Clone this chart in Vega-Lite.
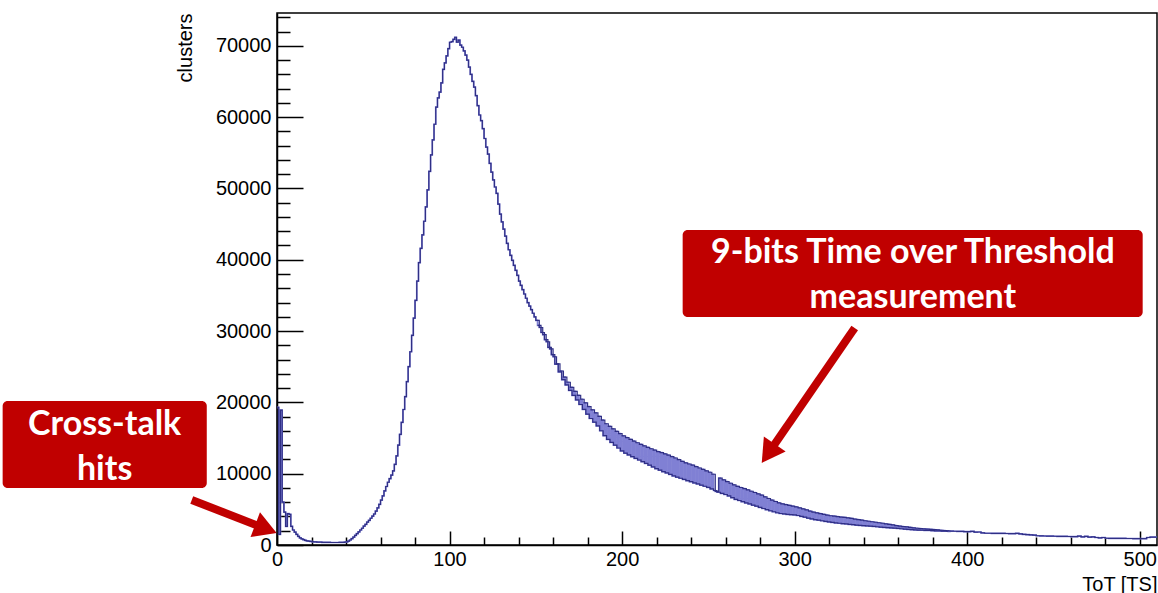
{
"$schema":"https://vega.github.io/schema/vega-lite/v6.json",
"width":880,"height":532,"autosize":"none",
"padding":{"left":277,"top":13,"right":1,"bottom":48},
"background":"white",
"config":{"view":{"stroke":"black","strokeWidth":1.5},
"axis":{"labelFont":"Liberation Sans","labelFontSize":20,"labelColor":"black","titleFont":"Liberation Sans","titleFontSize":20,"titleFontWeight":"normal","titleColor":"black","tickColor":"black","tickWidth":1.5,"domainColor":"black","domainWidth":1.5,"grid":false,"labelOverlap":false,"labelFlush":false}},
"datasets":{
"hist":[
{"x":0,"y":19300},{"x":1,"y":1500},{"x":2,"y":18900},{"x":3,"y":6000},{"x":4,"y":4600},{"x":5,"y":2600},{"x":6,"y":4400},{"x":7,"y":4300},{"x":8,"y":2600},{"x":9,"y":2100},
{"x":10,"y":1800},{"x":11,"y":1500},{"x":12,"y":1200},{"x":13,"y":1000},{"x":14,"y":850},{"x":15,"y":750},{"x":16,"y":650},{"x":17,"y":580},{"x":18,"y":530},{"x":19,"y":500},
{"x":20,"y":470},{"x":21,"y":450},{"x":22,"y":430},{"x":23,"y":410},{"x":24,"y":400},{"x":25,"y":390},{"x":26,"y":380},{"x":27,"y":370},{"x":28,"y":370},{"x":29,"y":360},
{"x":30,"y":360},{"x":31,"y":350},{"x":32,"y":350},{"x":33,"y":350},{"x":34,"y":350},{"x":35,"y":350},{"x":36,"y":360},{"x":37,"y":370},{"x":38,"y":380},{"x":39,"y":400},
{"x":40,"y":440},{"x":41,"y":540},{"x":42,"y":700},{"x":43,"y":900},{"x":44,"y":1100},{"x":45,"y":1350},{"x":46,"y":1600},{"x":47,"y":1850},{"x":48,"y":2100},{"x":49,"y":2350},
{"x":50,"y":2650},{"x":51,"y":2900},{"x":52,"y":3200},{"x":53,"y":3450},{"x":54,"y":3750},{"x":55,"y":4050},{"x":56,"y":4350},{"x":57,"y":4750},{"x":58,"y":5200},{"x":59,"y":5700},
{"x":60,"y":6300},{"x":61,"y":6900},{"x":62,"y":7600},{"x":63,"y":8200},{"x":64,"y":8800},{"x":65,"y":9300},{"x":66,"y":9800},{"x":67,"y":10400},{"x":68,"y":11300},{"x":69,"y":12500},
{"x":70,"y":14000},{"x":71,"y":15500},{"x":72,"y":17200},{"x":73,"y":19000},{"x":74,"y":20800},{"x":75,"y":22900},{"x":76,"y":25000},{"x":77,"y":27100},{"x":78,"y":29400},{"x":79,"y":31800},
{"x":80,"y":34300},{"x":81,"y":37000},{"x":82,"y":39600},{"x":83,"y":41600},{"x":84,"y":43500},{"x":85,"y":45400},{"x":86,"y":47400},{"x":87,"y":49800},{"x":88,"y":52400},{"x":89,"y":54700},
{"x":90,"y":56800},{"x":91,"y":59000},{"x":92,"y":61400},{"x":93,"y":62700},{"x":94,"y":63500},{"x":95,"y":64800},{"x":96,"y":66700},{"x":97,"y":67600},{"x":98,"y":68600},{"x":99,"y":69600},
{"x":100,"y":70500},{"x":101,"y":70600},{"x":102,"y":70900},{"x":103,"y":71200},{"x":104,"y":70500},{"x":105,"y":70800},{"x":106,"y":70100},{"x":107,"y":69800},{"x":108,"y":69300},{"x":109,"y":68700},
{"x":110,"y":68000},{"x":111,"y":67000},{"x":112,"y":66000},{"x":113,"y":65000},{"x":114,"y":64200},{"x":115,"y":63000},{"x":116,"y":61600},{"x":117,"y":60300},{"x":118,"y":59500},{"x":119,"y":58400},
{"x":120,"y":57000},{"x":121,"y":55800},{"x":122,"y":54800},{"x":123,"y":53500},{"x":124,"y":52300},{"x":125,"y":51200},{"x":126,"y":50200},{"x":127,"y":49300},{"x":128,"y":47800},{"x":129,"y":46400},
{"x":130,"y":45300},{"x":131,"y":44300},{"x":132,"y":43300},{"x":133,"y":42300},{"x":134,"y":41400},{"x":135,"y":40600},{"x":136,"y":39900},{"x":137,"y":39200},{"x":138,"y":38500},{"x":139,"y":37800},
{"x":140,"y":37000},{"x":141,"y":36400},{"x":142,"y":35800},{"x":143,"y":35200},{"x":144,"y":34600},{"x":145,"y":34000},{"x":146,"y":33500},{"x":147,"y":33000},{"x":148,"y":32500},{"x":149,"y":32000},
{"x":150,"y":31500},{"x":151,"y":30800},{"x":152,"y":30500},{"x":153,"y":29800},{"x":154,"y":29500},{"x":155,"y":28800},{"x":156,"y":28500},{"x":157,"y":27700},{"x":158,"y":27500},{"x":159,"y":26700},
{"x":160,"y":26400},{"x":161,"y":25360},{"x":162,"y":25400},{"x":163,"y":24280},{"x":164,"y":24400},{"x":165,"y":23200},{"x":166,"y":23540},{"x":167,"y":22440},{"x":168,"y":22820},{"x":169,"y":21680},
{"x":170,"y":22100},{"x":171,"y":20980},{"x":172,"y":21540},{"x":173,"y":20340},{"x":174,"y":20980},{"x":175,"y":19700},{"x":176,"y":20440},{"x":177,"y":19020},{"x":178,"y":19920},{"x":179,"y":18340},
{"x":180,"y":19400},{"x":181,"y":17740},{"x":182,"y":18960},{"x":183,"y":17220},{"x":184,"y":18520},{"x":185,"y":16700},{"x":186,"y":18040},{"x":187,"y":16020},{"x":188,"y":17520},{"x":189,"y":15340},
{"x":190,"y":17000},{"x":191,"y":14800},{"x":192,"y":16640},{"x":193,"y":14400},{"x":194,"y":16280},{"x":195,"y":14000},{"x":196,"y":15940},{"x":197,"y":13600},{"x":198,"y":15620},{"x":199,"y":13200},
{"x":200,"y":15300},{"x":201,"y":12880},{"x":202,"y":15060},{"x":203,"y":12640},{"x":204,"y":14820},{"x":205,"y":12400},{"x":206,"y":14580},{"x":207,"y":12160},{"x":208,"y":14340},{"x":209,"y":11920},
{"x":210,"y":14100},{"x":211,"y":11680},{"x":212,"y":13900},{"x":213,"y":11440},{"x":214,"y":13700},{"x":215,"y":11200},{"x":216,"y":13500},{"x":217,"y":10960},{"x":218,"y":13300},{"x":219,"y":10720},
{"x":220,"y":13100},{"x":221,"y":10500},{"x":222,"y":12940},{"x":223,"y":10300},{"x":224,"y":12780},{"x":225,"y":10100},{"x":226,"y":12600},{"x":227,"y":9900},{"x":228,"y":12400},{"x":229,"y":9700},
{"x":230,"y":12200},{"x":231,"y":9520},{"x":232,"y":11960},{"x":233,"y":9360},{"x":234,"y":11720},{"x":235,"y":9200},{"x":236,"y":11520},{"x":237,"y":9040},{"x":238,"y":11360},{"x":239,"y":8880},
{"x":240,"y":11200},{"x":241,"y":8720},{"x":242,"y":11000},{"x":243,"y":8560},{"x":244,"y":10800},{"x":245,"y":8400},{"x":246,"y":10600},{"x":247,"y":8240},{"x":248,"y":10400},{"x":249,"y":8080},
{"x":250,"y":10200},{"x":251,"y":7880},{"x":252,"y":9920},{"x":253,"y":7640},{"x":254,"y":7500},{"x":255,"y":7400},{"x":256,"y":9380},{"x":257,"y":7240},{"x":258,"y":9140},{"x":259,"y":7080},
{"x":260,"y":8900},{"x":261,"y":6880},{"x":262,"y":8660},{"x":263,"y":6640},{"x":264,"y":8420},{"x":265,"y":6400},{"x":266,"y":8220},{"x":267,"y":6240},{"x":268,"y":8060},{"x":269,"y":6080},
{"x":270,"y":7900},{"x":271,"y":5920},{"x":272,"y":7720},{"x":273,"y":5760},{"x":274,"y":7540},{"x":275,"y":5600},{"x":276,"y":7360},{"x":277,"y":5440},{"x":278,"y":7180},{"x":279,"y":5280},
{"x":280,"y":7000},{"x":281,"y":5120},{"x":282,"y":6760},{"x":283,"y":4960},{"x":284,"y":6520},{"x":285,"y":4800},{"x":286,"y":6300},{"x":287,"y":4660},{"x":288,"y":6100},{"x":289,"y":4520},
{"x":290,"y":5900},{"x":291,"y":4420},{"x":292,"y":5780},{"x":293,"y":4360},{"x":294,"y":5660},{"x":295,"y":4300},{"x":296,"y":5550},{"x":297,"y":4260},{"x":298,"y":5450},{"x":299,"y":4220},
{"x":300,"y":5350},{"x":301,"y":4140},{"x":302,"y":5210},{"x":303,"y":4020},{"x":304,"y":5070},{"x":305,"y":3900},{"x":306,"y":4920},{"x":307,"y":3780},{"x":308,"y":4760},{"x":309,"y":3660},
{"x":310,"y":4600},{"x":311,"y":3560},{"x":312,"y":4500},{"x":313,"y":3480},{"x":314,"y":4400},{"x":315,"y":3400},{"x":316,"y":4300},{"x":317,"y":3320},{"x":318,"y":4200},{"x":319,"y":3240},
{"x":320,"y":4100},{"x":321,"y":3170},{"x":322,"y":4040},{"x":323,"y":3110},{"x":324,"y":3980},{"x":325,"y":3050},{"x":326,"y":3920},{"x":327,"y":3000},{"x":328,"y":3860},{"x":329,"y":2950},
{"x":330,"y":3800},{"x":331,"y":2900},{"x":332,"y":3720},{"x":333,"y":2850},{"x":334,"y":3640},{"x":335,"y":2800},{"x":336,"y":3560},{"x":337,"y":2760},{"x":338,"y":3480},{"x":339,"y":2720},
{"x":340,"y":3400},{"x":341,"y":2680},{"x":342,"y":3330},{"x":343,"y":2640},{"x":344,"y":3260},{"x":345,"y":2600},{"x":346,"y":3190},{"x":347,"y":2560},{"x":348,"y":3120},{"x":349,"y":2520},
{"x":350,"y":3050},{"x":351,"y":2480},{"x":352,"y":2970},{"x":353,"y":2440},{"x":354,"y":2890},{"x":355,"y":2400},{"x":356,"y":2810},{"x":357,"y":2360},{"x":358,"y":2730},{"x":359,"y":2320},
{"x":360,"y":2650},{"x":361,"y":2280},{"x":362,"y":2590},{"x":363,"y":2240},{"x":364,"y":2530},{"x":365,"y":2200},{"x":366,"y":2470},{"x":367,"y":2160},{"x":368,"y":2410},{"x":369,"y":2120},
{"x":370,"y":2350},{"x":371,"y":2090},{"x":372,"y":2310},{"x":373,"y":2070},{"x":374,"y":2270},{"x":375,"y":2050},{"x":376,"y":2230},{"x":377,"y":2030},{"x":378,"y":2190},{"x":379,"y":2010},
{"x":380,"y":2150},{"x":381,"y":1990},{"x":382,"y":2110},{"x":383,"y":1970},{"x":384,"y":2070},{"x":385,"y":1950},{"x":386,"y":2030},{"x":387,"y":1940},{"x":388,"y":1990},{"x":389,"y":1920},
{"x":390,"y":1950},{"x":392,"y":1930},{"x":394,"y":1920},{"x":396,"y":1900},{"x":398,"y":1880},{"x":400,"y":1870},{"x":402,"y":1900},{"x":404,"y":1800},{"x":406,"y":1820},{"x":408,"y":1700},
{"x":410,"y":1650},{"x":412,"y":1650},{"x":414,"y":1640},{"x":416,"y":1640},{"x":418,"y":1630},{"x":420,"y":1620},{"x":422,"y":1610},{"x":424,"y":1600},{"x":426,"y":1600},{"x":428,"y":1640},
{"x":430,"y":1560},{"x":432,"y":1500},{"x":434,"y":1450},{"x":436,"y":1420},{"x":438,"y":1380},{"x":440,"y":1300},{"x":442,"y":1280},{"x":444,"y":1260},{"x":446,"y":1250},{"x":448,"y":1240},
{"x":450,"y":1230},{"x":452,"y":1220},{"x":454,"y":1210},{"x":456,"y":1200},{"x":458,"y":1190},{"x":460,"y":1180},{"x":462,"y":1170},{"x":464,"y":1250},{"x":466,"y":1150},{"x":468,"y":1200},
{"x":470,"y":1100},{"x":472,"y":1150},{"x":474,"y":1050},{"x":476,"y":1000},{"x":478,"y":1050},{"x":480,"y":950},{"x":482,"y":940},{"x":484,"y":930},{"x":486,"y":930},{"x":488,"y":920},
{"x":490,"y":920},{"x":492,"y":910},{"x":494,"y":910},{"x":496,"y":900},{"x":498,"y":900},{"x":500,"y":900},{"x":502,"y":900},{"x":504,"y":1050},{"x":506,"y":1100},{"x":508,"y":1100},{"x":510,"y":1100}
],
"boxes":[{"x":-159,"x2":-40.7,"y":20200,"y2":8000},{"x":235.1,"x2":501.7,"y":44180,"y2":31980}],
"texts":[{"x":-99.9,"y":15430,"t":"Cross-talk"},{"x":-99.9,"y":9120,"t":"hits"},{"x":368.5,"y":39560,"t":"9-bits Time over Threshold"},{"x":368.5,"y":33240,"t":"measurement"}],
"shafts":[{"x":-49.4,"y":6310,"x2":-6.4,"y2":2270},{"x":334.8,"y":30430,"x2":284.7,"y2":12830}],
"heads":[{"a":1,"x":-6.4,"y":2270},{"a":2,"x":284.7,"y":12830}]
},
"layer":[
{"data":{"name":"hist"},
 "mark":{"type":"line","interpolate":"step-after","color":"#8080d4","strokeWidth":1.7},
 "encoding":{
  "x":{"field":"x","type":"quantitative","scale":{"domain":[0,510],"nice":false,"zero":false},
   "axis":{"values":[0,20,40,60,80,100,120,140,160,180,200,220,240,260,280,300,320,340,360,380,400,420,440,460,480,500],"tickCount":100,
    "format":"d","labelExpr":"datum.value % 100 === 0 ? datum.label : ''",
    "tickSize":{"condition":{"test":"datum.value % 100 === 0","value":-14},"value":-8},
    "labelPadding":18,"title":"ToT [TS]","titleAnchor":"end","titleAlign":"right","titleX":880,"titleY":45,"titleBaseline":"alphabetic"}},
  "y":{"field":"y","type":"quantitative","scale":{"domain":[0,74600],"nice":false,"zero":false},
   "axis":{"values":[0,2000,4000,6000,8000,10000,12000,14000,16000,18000,20000,22000,24000,26000,28000,30000,32000,34000,36000,38000,40000,42000,44000,46000,48000,50000,52000,54000,56000,58000,60000,62000,64000,66000,68000,70000,72000,74000],"tickCount":100,
    "format":"d","labelExpr":"datum.value % 10000 === 0 ? datum.label : ''",
    "tickSize":{"condition":{"test":"datum.value % 10000 === 0","value":-26},"value":-13},
    "labelPadding":32,"title":"clusters","titleAngle":-90,"titleAlign":"right","titleBaseline":"alphabetic","titleX":-86,"titleY":0}}
 }},
{"data":{"name":"hist"},"transform":[{"filter":"datum.x < 150 || datum.x >= 390 || datum.x % 2 === 0"}],
 "mark":{"type":"line","interpolate":"step-after","color":"#2f2f85","strokeWidth":1.2},
 "encoding":{"x":{"field":"x","type":"quantitative"},"y":{"field":"y","type":"quantitative"}}},
{"data":{"name":"hist"},"transform":[{"filter":"datum.x >= 150 && datum.x < 390 && datum.x % 2 === 1"}],
 "mark":{"type":"line","interpolate":"step-after","color":"#2f2f85","strokeWidth":1.2},
 "encoding":{"x":{"field":"x","type":"quantitative"},"y":{"field":"y","type":"quantitative"}}},
{"data":{"name":"boxes"},
 "mark":{"type":"rect","color":"#c00000","cornerRadius":5,"clip":false},
 "encoding":{"x":{"field":"x","type":"quantitative"},"x2":{"field":"x2"},
  "y":{"field":"y","type":"quantitative"},"y2":{"field":"y2"}}},
{"data":{"name":"texts"},
 "mark":{"type":"text","font":"Lato","fontWeight":"bold","fontSize":34,"color":"white","align":"center","baseline":"alphabetic","clip":false},
 "encoding":{"x":{"field":"x","type":"quantitative"},"y":{"field":"y","type":"quantitative"},"text":{"field":"t"}}},
{"data":{"name":"shafts"},
 "mark":{"type":"rule","color":"#c00000","strokeWidth":8,"strokeCap":"butt","clip":false},
 "encoding":{"x":{"field":"x","type":"quantitative"},"y":{"field":"y","type":"quantitative"},"x2":{"field":"x2"},"y2":{"field":"y2"}}},
{"data":{"name":"heads"},"transform":[{"filter":"datum.a === 1"}],
 "mark":{"type":"point","shape":"triangle-right","filled":true,"size":700,"angle":21,"color":"#c00000","opacity":1,"clip":false},
 "encoding":{"x":{"field":"x","type":"quantitative"},"y":{"field":"y","type":"quantitative"}}},
{"data":{"name":"heads"},"transform":[{"filter":"datum.a === 2"}],
 "mark":{"type":"point","shape":"triangle-right","filled":true,"size":700,"angle":124.6,"color":"#c00000","opacity":1,"clip":false},
 "encoding":{"x":{"field":"x","type":"quantitative"},"y":{"field":"y","type":"quantitative"}}}
]
}
